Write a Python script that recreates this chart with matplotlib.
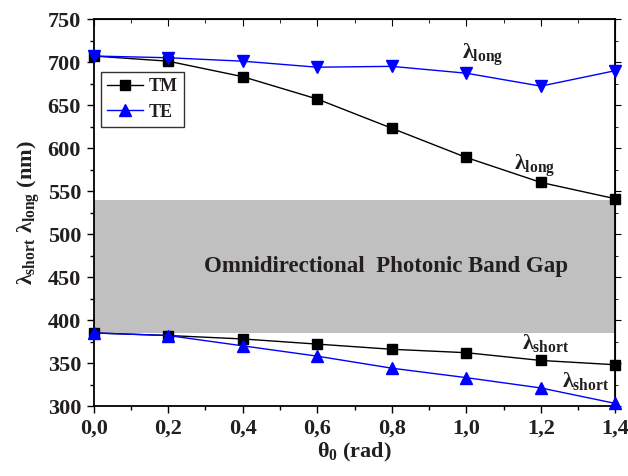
import matplotlib
matplotlib.use("Agg")
import matplotlib.pyplot as plt
from matplotlib.ticker import MultipleLocator

theta = [0.0, 0.2, 0.4, 0.6, 0.8, 1.0, 1.2, 1.4]
tm_long = [707, 701, 683, 657, 623, 589, 560, 541]
tm_short = [385, 382, 378, 372, 366, 362, 353, 348]
te_long = [707, 705, 701, 694, 695, 687, 672, 690]
te_short = [385, 382, 370, 358, 344, 333, 321, 303]
gap_low, gap_high = 385, 539
xticks = [0.0, 0.2, 0.4, 0.6, 0.8, 1.0, 1.2, 1.4]
xticklabels = ["0,0", "0,2", "0,4", "0,6", "0,8", "1,0", "1,2", "1,4"]
yticks = [300, 350, 400, 450, 500, 550, 600, 650, 700, 750]

txt = "#231f20"
plt.rcParams["font.family"] = ["Liberation Serif", "DejaVu Serif"]
plt.rcParams["font.weight"] = "bold"
plt.rcParams["axes.labelweight"] = "bold"
plt.rcParams["mathtext.fontset"] = "custom"
plt.rcParams["mathtext.rm"] = "Liberation Serif:bold"
plt.rcParams["mathtext.it"] = "Liberation Serif:bold"
plt.rcParams["mathtext.bf"] = "Liberation Serif:bold"

fig = plt.figure(figsize=(6.28, 4.76), dpi=100)
ax = fig.add_axes([0.149, 0.147, 0.831, 0.813])

ax.axhspan(gap_low, gap_high, color="#c0c0c0", lw=0, zorder=0)

ax.plot(theta, tm_long, color="black", lw=1, marker="s", ms=7, zorder=3, label="TM", clip_on=False)
ax.plot(theta, tm_short, color="black", lw=1, marker="s", ms=7, zorder=3, clip_on=False)
ax.plot(theta, te_long, color="blue", lw=1, marker="v", ms=8, zorder=4, clip_on=False)
ax.plot(theta, te_short, color="blue", lw=1, marker="^", ms=8, zorder=4, label="TE", clip_on=False)

ax.set_xlim(0, 1.4)
ax.set_ylim(300, 750)
ax.set_xticks(xticks)
ax.set_xticklabels(xticklabels)
ax.set_yticks(yticks)
ax.xaxis.set_minor_locator(MultipleLocator(0.1))
ax.yaxis.set_minor_locator(MultipleLocator(25))
ax.tick_params(axis="both", which="major", direction="out", length=5, width=1,
               labelsize=16, labelcolor=txt, pad=4)
ax.tick_params(axis="both", which="minor", direction="out", length=3, width=1)
for s in ax.spines.values():
    s.set_linewidth(1.3)

# mirrored ticks on top (in) and right (out)
top = ax.secondary_xaxis("top")
top.set_xticks(xticks)
top.xaxis.set_minor_locator(MultipleLocator(0.1))
top.tick_params(which="major", direction="in", length=5, labeltop=False)
top.tick_params(which="minor", direction="in", length=3)
right = ax.secondary_yaxis("right")
right.set_yticks(yticks)
right.yaxis.set_minor_locator(MultipleLocator(25))
right.tick_params(which="major", direction="out", length=4, labelright=False)
right.tick_params(which="minor", direction="out", length=2)

ax.set_xlabel(r"$\theta_0$ (rad)", fontsize=16, color=txt, labelpad=2)
ax.set_ylabel(r"$\lambda_{short}\ \lambda_{long}$ (nm)", fontsize=16, color=txt, labelpad=4)

ax.text(0.785, 462, "Omnidirectional  Photonic Band Gap", ha="center", va="center",
        fontsize=16.5, color=txt)
ax.text(1.044, 704, r"$\lambda_{long}$", fontsize=16, color=txt, ha="center")
ax.text(1.184, 575, r"$\lambda_{long}$", fontsize=16, color=txt, ha="center")
ax.text(1.213, 366, r"$\lambda_{short}$", fontsize=16, color=txt, ha="center")
ax.text(1.32, 322, r"$\lambda_{short}$", fontsize=16, color=txt, ha="center")

leg = ax.legend(loc="upper left", bbox_to_anchor=(0.014, 0.863), borderaxespad=0,
                fontsize=13, frameon=True, fancybox=False, edgecolor="black",
                handlelength=2.0, borderpad=0.35, labelspacing=0.45, handletextpad=0.3)
leg.get_frame().set_linewidth(1)
for t in leg.get_texts():
    t.set_color(txt)

fig.savefig("out.png", dpi=100)
